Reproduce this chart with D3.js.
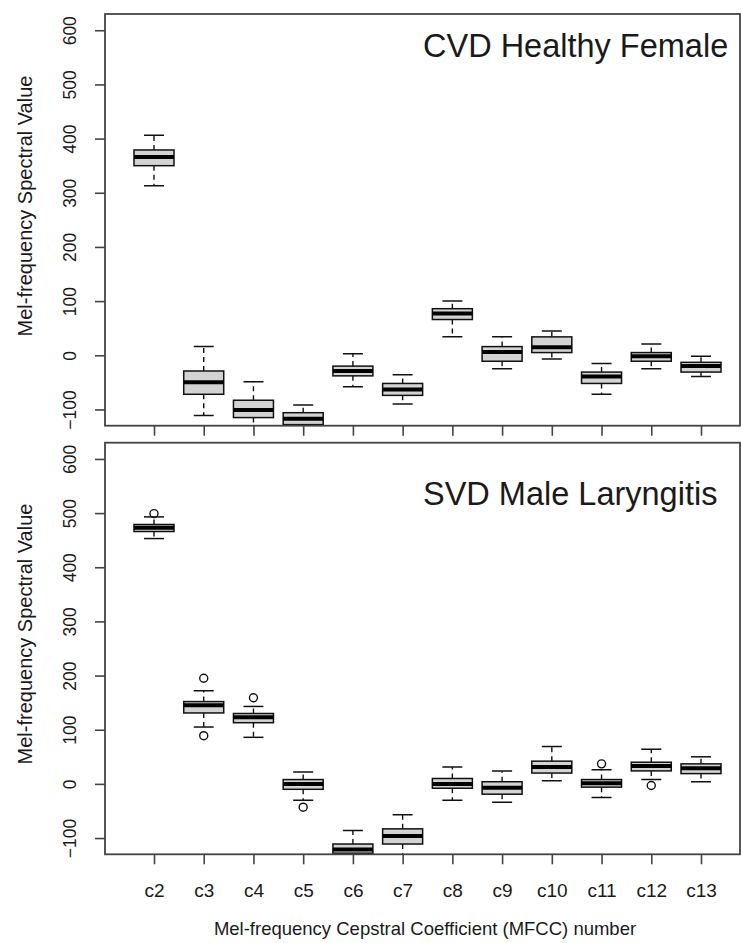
<!DOCTYPE html>
<html>
<head>
<meta charset="utf-8">
<script src="https://cdn.jsdelivr.net/npm/d3@7"></script>
<style>
  html, body { margin: 0; padding: 0; background: #fff; }
  svg { display: block; }
  text { font-family: "Liberation Sans", Arial, sans-serif; fill: #1a1a1a; }
</style>
</head>
<body>
<svg id="chart" width="741" height="943"></svg>
<script>
// ---------- data ----------
const categories = ["c2","c3","c4","c5","c6","c7","c8","c9","c10","c11","c12","c13"];
const yTicks = [-100, 0, 100, 200, 300, 400, 500, 600];

// Panel 1: CVD Healthy Female
const p1Title = "CVD Healthy Female";
const p1Low    = [313, -111, -135, -150, -58, -90, 34, -25, -7, -72, -25, -39];
const p1Q1     = [350, -72, -115, -128, -38, -74, 66, -11, 5, -52, -11, -31];
const p1Median = [366, -50, -101, -117, -29, -63, 77, 6, 15, -39, -2, -20];
const p1Q3     = [379, -29, -83, -106, -20, -52, 86, 16, 34, -31, 5, -13];
const p1High   = [406, 16, -49, -92, 3, -36, 100, 34, 45, -15, 21, -2];
const p1Outliers = [[], [], [], [], [], [], [], [], [], [], [], []];

// Panel 2: SVD Male Laryngitis
const p2Title = "SVD Male Laryngitis";
const p2Low    = [453, 105, 86, -30, -140, -140, -30, -34, 6, -25, 8, 4];
const p2Q1     = [466, 131, 113, -10, -128, -111, -8, -19, 20, -6, 24, 19];
const p2Median = [473, 145, 123, 0, -121, -96, 0, -7, 31, 1, 33, 29];
const p2Q3     = [479, 152, 130, 8, -111, -83, 10, 4, 42, 8, 40, 37];
const p2High   = [493, 172, 143, 22, -86, -57, 31, 24, 69, 26, 64, 50];
const p2Outliers = [[499], [195, 89], [159], [-43], [], [], [], [], [], [37], [-3], []];

const yTitle = "Mel-frequency Spectral Value";
const xTitle = "Mel-frequency Cepstral Coefficient (MFCC) number";

// ---------- layout ----------
const svg = d3.select("#chart");
const frameLeft = 105, frameRight = 740;
const x = d3.scalePoint().domain(categories).range([154, 701]);
const boxW = 40, capW = 20;

const panels = [
  { title: p1Title, low: p1Low, q1: p1Q1, med: p1Median, q3: p1Q3, high: p1High, out: p1Outliers,
    top: 14, bottom: 425.7, titleY: 57, yTitleY: 206, labels: false },
  { title: p2Title, low: p2Low, q1: p2Q1, med: p2Median, q3: p2Q3, high: p2High, out: p2Outliers,
    top: 442.7, bottom: 854.3, titleY: 505, yTitleY: 634, labels: true }
];

panels.forEach((p, pi) => {
  const y = d3.scaleLinear().domain([-130, 630]).range([p.bottom, p.top]);
  const g = svg.append("g");
  const clipId = "clip" + pi;
  svg.append("clipPath").attr("id", clipId)
    .append("rect").attr("x", frameLeft).attr("y", p.top)
    .attr("width", frameRight - frameLeft).attr("height", p.bottom - p.top);

  const data = categories.map((c, i) => ({
    c, low: p.low[i], q1: p.q1[i], med: p.med[i], q3: p.q3[i], high: p.high[i], out: p.out[i]
  }));

  const marks = g.append("g").attr("clip-path", `url(#${clipId})`);
  const bx = marks.selectAll("g.box").data(data).join("g").attr("class", "box");

  // whiskers (dashed)
  bx.append("line")
    .attr("x1", d => x(d.c)).attr("x2", d => x(d.c))
    .attr("y1", d => y(d.q3)).attr("y2", d => y(d.high))
    .attr("stroke", "#111").attr("stroke-width", 1.4).attr("stroke-dasharray", "5,4");
  bx.append("line")
    .attr("x1", d => x(d.c)).attr("x2", d => x(d.c))
    .attr("y1", d => y(d.q1)).attr("y2", d => y(d.low))
    .attr("stroke", "#111").attr("stroke-width", 1.4).attr("stroke-dasharray", "5,4");
  // caps
  bx.append("line")
    .attr("x1", d => x(d.c) - capW / 2).attr("x2", d => x(d.c) + capW / 2)
    .attr("y1", d => y(d.high)).attr("y2", d => y(d.high))
    .attr("stroke", "#111").attr("stroke-width", 1.5);
  bx.append("line")
    .attr("x1", d => x(d.c) - capW / 2).attr("x2", d => x(d.c) + capW / 2)
    .attr("y1", d => y(d.low)).attr("y2", d => y(d.low))
    .attr("stroke", "#111").attr("stroke-width", 1.5);
  // box
  bx.append("rect")
    .attr("x", d => x(d.c) - boxW / 2).attr("width", boxW)
    .attr("y", d => y(d.q3)).attr("height", d => y(d.q1) - y(d.q3))
    .attr("fill", "#d3d3d3").attr("stroke", "#111").attr("stroke-width", 1.5);
  // median
  bx.append("line")
    .attr("x1", d => x(d.c) - boxW / 2).attr("x2", d => x(d.c) + boxW / 2)
    .attr("y1", d => y(d.med)).attr("y2", d => y(d.med))
    .attr("stroke", "#000").attr("stroke-width", 4);
  // outliers
  bx.selectAll("circle").data(d => d.out.map(v => ({ c: d.c, v }))).join("circle")
    .attr("cx", d => x(d.c)).attr("cy", d => y(d.v)).attr("r", 4)
    .attr("fill", "none").attr("stroke", "#111").attr("stroke-width", 1.4);

  // frame
  g.append("rect")
    .attr("x", frameLeft).attr("y", p.top)
    .attr("width", frameRight - frameLeft).attr("height", p.bottom - p.top)
    .attr("fill", "none").attr("stroke", "#444").attr("stroke-width", 1.8);

  // y axis
  const ya = g.append("g").attr("transform", `translate(${frameLeft},0)`)
    .call(d3.axisLeft(y).tickValues(yTicks).tickSize(10).tickFormat(d3.format("d")));
  ya.select(".domain").remove();
  ya.selectAll(".tick line").attr("stroke", "#444").attr("stroke-width", 1.6);
  ya.selectAll(".tick text")
    .attr("x", null).attr("dy", null)
    .attr("transform", "translate(-29,0) rotate(-90)")
    .attr("text-anchor", "middle")
    .style("font-size", "17.5px").style("font-family", "'Liberation Sans', Arial, sans-serif")
    .attr("fill", "#1a1a1a");

  // x axis
  const xa = g.append("g").attr("transform", `translate(0,${p.bottom})`)
    .call(d3.axisBottom(x).tickSize(10));
  xa.select(".domain").remove();
  xa.selectAll(".tick line").attr("stroke", "#444").attr("stroke-width", 1.6);
  if (p.labels) {
    xa.selectAll(".tick text")
      .attr("y", 43).attr("dy", null)
      .style("font-size", "19px").style("font-family", "'Liberation Sans', Arial, sans-serif")
      .attr("fill", "#1a1a1a");
  } else {
    xa.selectAll(".tick text").remove();
  }

  // panel title
  g.append("text").attr("x", 423).attr("y", p.titleY)
    .style("font-size", "32.5px").text(p.title);

  // y title
  g.append("text")
    .attr("transform", `translate(32,${p.yTitleY}) rotate(-90)`)
    .attr("text-anchor", "middle")
    .style("font-size", "20px").text(yTitle);
});

// x title
svg.append("text").attr("x", 425).attr("y", 935)
  .attr("text-anchor", "middle").style("font-size", "18.5px").text(xTitle);
</script>
</body>
</html>
